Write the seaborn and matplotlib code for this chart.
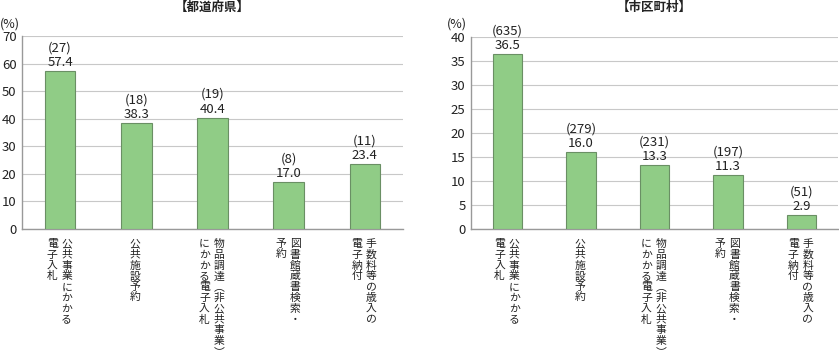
import matplotlib
matplotlib.use("Agg")
import matplotlib.pyplot as plt
import matplotlib.transforms as mtransforms
import seaborn as sns
import pandas as pd

# ---- data ----
categories = [
    "公共事業にかかる電子入札",
    "公共施設予約",
    "物品調達（非公共事業）にかかる電子入札",
    "図書館蔵書検索・予約",
    "手数料等の歳入の電子納付",
]
# vertical label columns (right column first, as read in tategaki)
label_columns = [
    ["公共事業にかかる", "電子入札"],
    ["公共施設予約"],
    ["物品調達︵非公共事業︶", "にかかる電子入札"],
    ["図書館蔵書検索・", "予約"],
    ["手数料等の歳入の", "電子納付"],
]
pref_values = [57.4, 38.3, 40.4, 17.0, 23.4]
pref_counts = [27, 18, 19, 8, 11]
muni_values = [36.5, 16.0, 13.3, 11.3, 2.9]
muni_counts = [635, 279, 231, 197, 51]
pref_title = "【都道府県】"
muni_title = "【市区町村】"
pref_ticks = [0, 10, 20, 30, 40, 50, 60, 70]
muni_ticks = [0, 5, 10, 15, 20, 25, 30, 35, 40]

sns.set_style("white")
plt.rcParams["font.family"] = ["Noto Sans CJK JP", "DejaVu Sans"]

BAR_COLOR = "#90cc86"
EDGE_COLOR = "#6a8f64"
TEXT_COLOR = "#222222"
GRID_COLOR = "#c8c8c8"
SPINE_COLOR = "#999999"

fig = plt.figure(figsize=(8.39, 3.57), dpi=100)
W, H = 839, 357
ax1 = fig.add_axes([22 / W, 1 - 229 / H, (403 - 22) / W, (229 - 36) / H])
ax2 = fig.add_axes([471 / W, 1 - 229 / H, (838 - 471) / W, (229 - 37) / H])

PITCH = 10.8   # px per vertical character
FIRST = 14.0   # px below axis to first char centre


def draw(ax, values, counts, ticks, title, title_dy):
    df = pd.DataFrame({"cat": categories, "val": values})
    sns.barplot(data=df, x="cat", y="val", ax=ax, color=BAR_COLOR,
                width=0.4, edgecolor=EDGE_COLOR, linewidth=0.8,
                saturation=1, zorder=3)
    ax.set_xlim(-0.5, 4.5)
    ax.set_ylim(ticks[0], ticks[-1])
    ax.set_yticks(ticks)
    ax.set_yticklabels([str(t) for t in ticks], fontsize=9.5, color=TEXT_COLOR)
    ax.tick_params(axis="y", length=0, pad=4)
    ax.set_xticks([0.5, 1.5, 2.5, 3.5, 4.5])
    ax.set_xticklabels([""] * 5)
    ax.tick_params(axis="x", direction="in", length=5, width=0.8,
                   color=SPINE_COLOR)
    ax.set_xlabel("")
    ax.set_ylabel("")
    ax.grid(axis="y", color=GRID_COLOR, linewidth=0.8, zorder=0)
    ax.set_axisbelow(True)
    for s in ["top", "right"]:
        ax.spines[s].set_visible(False)
    for s in ["left", "bottom"]:
        ax.spines[s].set_color(SPINE_COLOR)
        ax.spines[s].set_linewidth(1.0)

    # value labels
    for i, (v, c) in enumerate(zip(values, counts)):
        ax.annotate(f"({c})\n{v:.1f}", xy=(i, v), xytext=(0, 1.5),
                    textcoords="offset points", ha="center", va="bottom",
                    fontsize=9.5, color=TEXT_COLOR, linespacing=1.15)

    # vertical category labels (one character per position)
    for i, cols in enumerate(label_columns):
        n = len(cols)
        for j, col in enumerate(cols):
            off_px = -1 if n == 1 else (6.5 if j == 0 else -8.0)
            for k, ch in enumerate(col):
                tr = mtransforms.offset_copy(
                    ax.get_xaxis_transform(), fig=fig, x=off_px,
                    y=-(FIRST + PITCH * k), units="dots")
                ax.text(i, 0, ch, transform=tr, ha="center",
                        va="center_baseline", fontsize=7.8,
                        color=TEXT_COLOR)

    ttr = mtransforms.offset_copy(ax.transAxes, fig=fig, x=0, y=title_dy,
                                  units="dots")
    ax.text(0.5, 1.0, title, transform=ttr, ha="center", va="bottom",
            fontsize=9, fontweight="bold", color=TEXT_COLOR)
    return ax


draw(ax1, pref_values, pref_counts, pref_ticks, pref_title, 22)
draw(ax2, muni_values, muni_counts, muni_ticks, muni_title, 23)

fig.text(10 / W, 1 - 24 / H, "(%)", ha="center", va="center",
         fontsize=9, color=TEXT_COLOR)
fig.text(457 / W, 1 - 24 / H, "(%)", ha="center", va="center",
         fontsize=9, color=TEXT_COLOR)

fig.savefig("out.png", dpi=100)
